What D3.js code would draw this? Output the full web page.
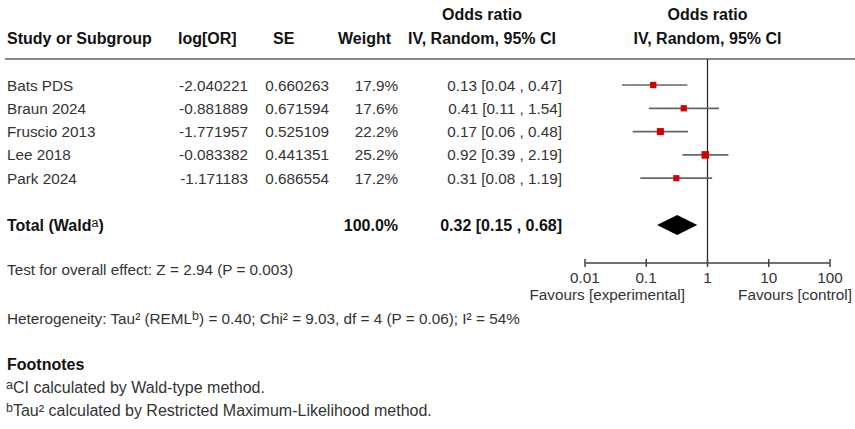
<!DOCTYPE html>
<html>
<head>
<meta charset="utf-8">
<script src="https://cdn.jsdelivr.net/npm/d3@7"></script>
<style>
  body { margin: 0; background: #fff; }
  svg { font-family: "Liberation Sans", Arial, sans-serif; font-size: 15.3px; fill: #333; }
  .bold { font-weight: bold; fill: #111; font-size: 16px; }
  .note { font-size: 16px; }
</style>
</head>
<body>
<div id="chart"></div>
<script>
// Data
const studies = ['Bats PDS', 'Braun 2024', 'Fruscio 2013', 'Lee 2018', 'Park 2024'];
const logOR = ['-2.040221', '-0.881889', '-1.771957', '-0.083382', '-1.171183'];
const seVals = ['0.660263', '0.671594', '0.525109', '0.441351', '0.686554'];
const weights = [17.9, 17.6, 22.2, 25.2, 17.2];
const orVals = [0.13, 0.41, 0.17, 0.92, 0.31];
const ciLow = [0.04, 0.11, 0.06, 0.39, 0.08];
const ciHigh = [0.47, 1.54, 0.48, 2.19, 1.19];
const total = { or: 0.32, lo: 0.15, hi: 0.68, weight: '100.0%' };
const axisTicks = [0.01, 0.1, 1, 10, 100];

const W = 855, H = 429;
const ROW0 = 85, ROW_STEP = 23.3, TOTAL_Y = 225;
const AXIS_Y = 263, HEADER_LINE_Y = 59;
const SUP = '12.5px';

const svg = d3.select('#chart').append('svg')
  .attr('width', W).attr('height', H);

const x = d3.scaleLog().domain([0.01, 100]).range([585, 830]);
const y = i => ROW0 + i * ROW_STEP;

// Header
const hdr = svg.append('g').attr('class', 'bold');
hdr.append('text').attr('x', 7).attr('y', 44).text('Study or Subgroup');
hdr.append('text').attr('x', 178).attr('y', 44).text('log[OR]');
hdr.append('text').attr('x', 273).attr('y', 44).text('SE');
hdr.append('text').attr('x', 338).attr('y', 44).text('Weight');
hdr.append('text').attr('x', 482).attr('y', 20).attr('text-anchor', 'middle').text('Odds ratio');
hdr.append('text').attr('x', 482).attr('y', 44).attr('text-anchor', 'middle').text('IV, Random, 95% CI');
hdr.append('text').attr('x', x(1)).attr('y', 20).attr('text-anchor', 'middle').text('Odds ratio');
hdr.append('text').attr('x', x(1)).attr('y', 44).attr('text-anchor', 'middle').text('IV, Random, 95% CI');

svg.append('line')
  .attr('x1', 5).attr('x2', W).attr('y1', HEADER_LINE_Y).attr('y2', HEADER_LINE_Y)
  .attr('stroke', '#888').attr('stroke-width', 2);

// Rows
const fmt = d3.format('.2f');
studies.forEach((s, i) => {
  const yy = y(i) + 5.5;
  svg.append('text').attr('x', 7).attr('y', yy).text(s);
  svg.append('text').attr('x', 248).attr('y', yy).attr('text-anchor', 'end').text(logOR[i]);
  svg.append('text').attr('x', 329).attr('y', yy).attr('text-anchor', 'end').text(seVals[i]);
  svg.append('text').attr('x', 398).attr('y', yy).attr('text-anchor', 'end').text(weights[i].toFixed(1) + '%');
  svg.append('text').attr('x', 562).attr('y', yy).attr('text-anchor', 'end')
    .text(`${fmt(orVals[i])} [${fmt(ciLow[i])} , ${fmt(ciHigh[i])}]`);
});

// Total row
const totY = TOTAL_Y + 5.5;
const tt = svg.append('text').attr('class', 'bold').attr('x', 7).attr('y', totY);
tt.append('tspan').text('Total (Wald');
tt.append('tspan').attr('dy', -4).attr('font-size', SUP).attr('font-weight', 'normal').text('a');
tt.append('tspan').attr('dy', 4).text(')');
svg.append('text').attr('class', 'bold').attr('x', 398).attr('y', totY).attr('text-anchor', 'end').text(total.weight);
svg.append('text').attr('class', 'bold').attr('x', 562).attr('y', totY).attr('text-anchor', 'end')
  .text(`${fmt(total.or)} [${fmt(total.lo)} , ${fmt(total.hi)}]`);

// Reference line
svg.append('line')
  .attr('x1', x(1)).attr('x2', x(1)).attr('y1', HEADER_LINE_Y).attr('y2', AXIS_Y)
  .attr('stroke', '#222').attr('stroke-width', 1.2);

// CI lines and squares
const sq = d3.scaleSqrt().domain([0, d3.max(weights)]).range([0, 7.5]);
studies.forEach((s, i) => {
  svg.append('line')
    .attr('x1', x(ciLow[i])).attr('x2', x(ciHigh[i]))
    .attr('y1', y(i)).attr('y2', y(i))
    .attr('stroke', '#666').attr('stroke-width', 1.7);
  const size = sq(weights[i]);
  svg.append('rect')
    .attr('x', x(orVals[i]) - size / 2).attr('y', y(i) - size / 2)
    .attr('width', size).attr('height', size)
    .attr('fill', '#d40000');
});

// Diamond
const dh = 10;
svg.append('path')
  .attr('d', `M${x(total.lo)},${TOTAL_Y} L${x(total.or)},${TOTAL_Y - dh} L${x(total.hi)},${TOTAL_Y} L${x(total.or)},${TOTAL_Y + dh} Z`)
  .attr('fill', '#000');

// Axis
const axis = svg.append('g').attr('transform', `translate(0,${AXIS_Y})`);
axis.append('line').attr('x1', x(0.01)).attr('x2', x(100)).attr('stroke', '#444').attr('stroke-width', 1.5);
axis.selectAll('.tick').data(axisTicks).enter().append('line')
  .attr('x1', d => x(d)).attr('x2', d => x(d)).attr('y1', -4).attr('y2', 4)
  .attr('stroke', '#444').attr('stroke-width', 1.5);
axis.selectAll('.lbl').data(axisTicks).enter().append('text')
  .attr('x', d => x(d)).attr('y', 20).attr('text-anchor', 'middle')
  .text(d => d);
svg.append('text').attr('x', 685).attr('y', 300).attr('text-anchor', 'end').text('Favours [experimental]');
svg.append('text').attr('x', 852).attr('y', 300).attr('text-anchor', 'end').text('Favours [control]');

// Bottom text
svg.append('text').attr('x', 7).attr('y', 275).text('Test for overall effect: Z = 2.94 (P = 0.003)');
const het = svg.append('text').attr('x', 7).attr('y', 324);
het.append('tspan').text('Heterogeneity: Tau² (REML');
het.append('tspan').attr('dy', -4).attr('font-size', SUP).text('b');
het.append('tspan').attr('dy', 4).text(') = 0.40; Chi² = 9.03, df = 4 (P = 0.06); I² = 54%');

svg.append('text').attr('class', 'bold').attr('x', 7).attr('y', 370).text('Footnotes');
const f1 = svg.append('text').attr('class', 'note').attr('x', 6).attr('y', 393);
f1.append('tspan').attr('dy', -4).attr('font-size', SUP).text('a');
f1.append('tspan').attr('dy', 4).text('CI calculated by Wald-type method.');
const f2 = svg.append('text').attr('class', 'note').attr('x', 6).attr('y', 416);
f2.append('tspan').attr('dy', -4).attr('font-size', SUP).text('b');
f2.append('tspan').attr('dy', 4).text('Tau² calculated by Restricted Maximum-Likelihood method.');
</script>
</body>
</html>
